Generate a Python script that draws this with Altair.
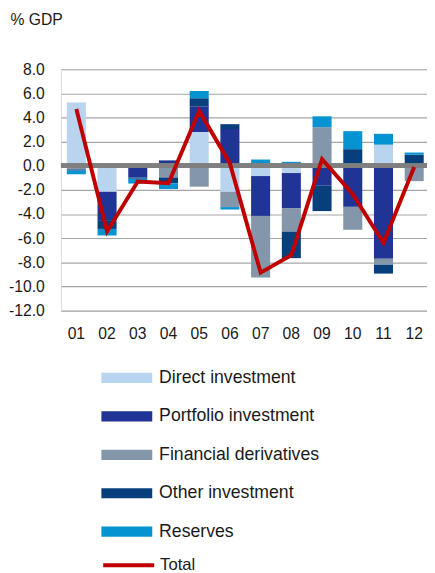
import altair as alt
import pandas as pd

cats = ["01", "02", "03", "04", "05", "06", "07", "08", "09", "10", "11", "12"]
series = ["Direct investment", "Portfolio investment", "Financial derivatives",
          "Other investment", "Reserves"]
colors = ["#B8D4EE", "#1F3494", "#8497AA", "#073F7C", "#0693D2"]

direct = [5.25, -2.15, 0.0, 0.0, 2.8, -2.15, -0.85, -0.6, 0.0, 0.0, 1.75, 0.0]
portfolio = [0.0, -2.35, -0.97, 0.45, 2.1, 3.05, -3.3, -2.9, -1.65, -3.4, -7.7, 0.0]
fin_deriv = [-0.3, 0.0, 0.0, -0.97, -1.73, -1.27, -5.1, -1.95, 3.2, -1.9, -0.5, -1.27]
other_inv = [-0.1, -0.73, -0.1, -0.48, 0.7, 0.4, 0.0, -2.2, -2.1, 1.38, -0.73, 0.92]
reserves = [-0.3, -0.54, -0.4, -0.48, 0.6, -0.2, 0.52, 0.33, 0.9, 1.49, 0.9, 0.18]
total = [4.7, -5.45, -1.3, -1.45, 4.55, 0.2, -8.85, -7.4, 0.55, -2.35, -6.4, -0.1]

y_ticks = [-12, -10, -8, -6, -4, -2, 0, 2, 4, 6, 8]

rows = []
for idx, (name, vals) in enumerate(zip(series, [direct, portfolio, fin_deriv, other_inv, reserves])):
    for c, v in zip(cats, vals):
        rows.append({"cat": c, "series": name, "idx": idx, "value": v})
bars_df = pd.DataFrame(rows)
line_df = pd.DataFrame({"cat": cats, "series": ["Total"] * len(cats), "value": total})

FONT = "Liberation Sans"
TXT = "#1a1a1a"

x_scale = alt.Scale(paddingInner=0.38, paddingOuter=0.19, range=[0, 375.6])

x_axis = alt.Axis(labelAngle=0, domain=False, ticks=False, tickSize=0,
                  labelPadding=15, labelFontSize=16, labelFont=FONT,
                  labelColor=TXT, grid=False)

y_scale = alt.Scale(domain=[-12, 8], nice=False, zero=False)

y_axis = alt.Axis(values=y_ticks, tickCount=30,
                  labelExpr="replace(format(datum.value, '.1f'), '\u2212', '-')",
                  labelOverlap=False, domain=False, ticks=False,
                  tickSize=0, labelPadding=17, labelFontSize=16,
                  labelFont=FONT, labelColor=TXT, grid=True,
                  gridColor="#A6A6A6", gridWidth=1.2,
                  titleAngle=0, titleAlign="left", titleBaseline="alphabetic",
                  titleX=-52, titleY=-46, titleFontSize=16,
                  titleFontWeight="normal", titleFont=FONT, titleColor=TXT)

bars = alt.Chart(bars_df).mark_bar().encode(
    x=alt.X("cat:N", sort=cats, title=None, scale=x_scale, axis=x_axis),
    y=alt.Y("value:Q", stack="zero", scale=y_scale, title="% GDP", axis=y_axis),
    fill=alt.Fill("series:N", scale=alt.Scale(domain=series, range=colors),
                  legend=alt.Legend(orient="none", legendX=41, legendY=304.5, title=None,
                                    symbolType="M-1,-0.2H1V0.2H-1Z", symbolSize=2704,
                                    symbolStrokeWidth=0, symbolOpacity=1,
                                    clipHeight=20, rowPadding=19.2, padding=0,
                                    labelFontSize=18, labelFont=FONT, labelColor=TXT,
                                    labelOffset=7, labelLimit=300)),
    order=alt.Order("idx:Q", sort="ascending"),
)

zero_rule = alt.Chart(line_df).mark_rule(color="#7F7F7F", strokeWidth=4).encode(
    y=alt.datum(0, scale=y_scale, axis=y_axis, title="% GDP")
)

line = alt.Chart(line_df).mark_line(strokeWidth=4).encode(
    x=alt.X("cat:N", sort=cats, title=None, scale=x_scale, axis=x_axis),
    y=alt.Y("value:Q", scale=y_scale, title="% GDP", axis=y_axis),
    stroke=alt.Stroke("series:N", scale=alt.Scale(domain=["Total"], range=["#C00000"]),
                      legend=alt.Legend(orient="none", legendX=41, legendY=495.5, title=None,
                                        symbolType="stroke", symbolSize=2704,
                                        symbolStrokeWidth=4, clipHeight=20, padding=0,
                                        labelFontSize=17, labelFont=FONT,
                                        labelColor=TXT, labelOffset=4)),
)

chart = alt.layer(bars, zero_rule, line).properties(
    width=373, height=246,
    autosize=alt.AutoSizeParams(type="none"),
    padding={"left": 54, "top": 57, "right": 0, "bottom": 265},
).configure_view(stroke=None).configure(background="white")

chart.save("out.html", embed_options={"renderer": "svg", "actions": False})
